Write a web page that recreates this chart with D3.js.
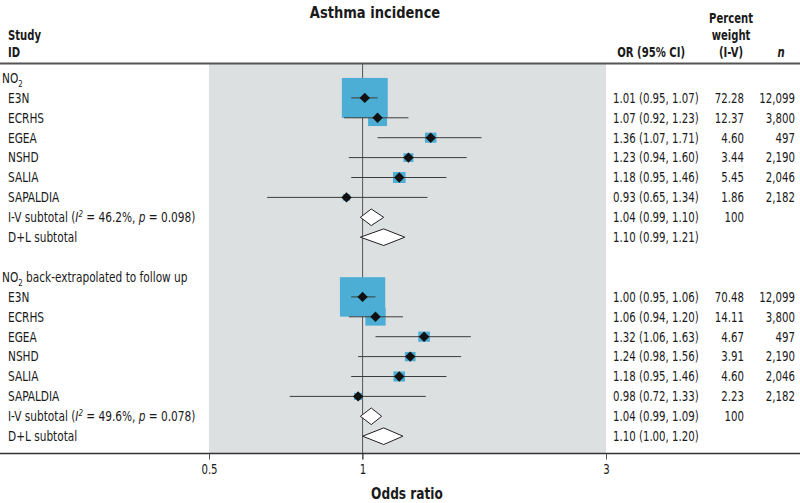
<!DOCTYPE html>
<html><head><meta charset="utf-8">
<script src="https://cdn.jsdelivr.net/npm/d3@7"></script>
<style>
body{margin:0;background:#fff;}
svg text{font-family:"DejaVu Sans Condensed","DejaVu Sans",sans-serif;font-stretch:condensed;fill:#1a1a1a;}
</style></head><body>
<svg id="c" width="800" height="503"></svg>
<script>
// ---- data ----
const title = "Asthma incidence";
const xLabel = "Odds ratio";
const groupLabels = ["NO2", "NO2 back-extrapolated to follow up"];
const studies = ["E3N", "ECRHS", "EGEA", "NSHD", "SALIA", "SAPALDIA"];
const nValues = ["12,099", "3,800", "497", "2,190", "2,046", "2,182"];
const or1 = [1.01, 1.07, 1.36, 1.23, 1.18, 0.93];
const lo1 = [0.95, 0.92, 1.07, 0.94, 0.95, 0.65];
const hi1 = [1.07, 1.23, 1.71, 1.60, 1.46, 1.34];
const w1 = [72.28, 12.37, 4.60, 3.44, 5.45, 1.86];
const iv1 = [1.04, 0.99, 1.10];
const dl1 = [1.10, 0.99, 1.21];
const het1 = ["46.2%", "0.098"];
const or2 = [1.00, 1.06, 1.32, 1.24, 1.18, 0.98];
const lo2 = [0.95, 0.94, 1.06, 0.98, 0.95, 0.72];
const hi2 = [1.06, 1.20, 1.63, 1.56, 1.46, 1.33];
const w2 = [70.48, 14.11, 4.67, 3.91, 4.60, 2.23];
const iv2 = [1.04, 0.99, 1.09];
const dl2 = [1.10, 1.00, 1.20];
const het2 = ["49.6%", "0.078"];
const ivWeight = "100";
const xTicks = [0.5, 1, 3];

// ---- layout ----
const svg = d3.select("#c");
const x = d3.scaleLog().domain([0.5, 3]).range([209, 606]);
const y = d3.scaleLinear().domain([0, 18]).range([78, 436.2]);
const boxSide = d3.scaleSqrt().domain([0, 100]).range([0, 54]);
const f2 = d3.format(".2f");
const blue = "#4daed5", panel = "#dde0e1", lineCol = "#3c3c3c";
const headerY = 63.5, axisY = 453.5;
const fs = 13.5, sx = 0.87, sxb = 0.8;
const tr = (xx, yy, s) => `translate(${xx},${yy}) scale(${s},1)`;

const groups = [
  {label: groupLabels[0], row: 0, or: or1, lo: lo1, hi: hi1, w: w1, iv: iv1, dl: dl1, het: het1},
  {label: groupLabels[1], row: 10, or: or2, lo: lo2, hi: hi2, w: w2, iv: iv2, dl: dl2, het: het2}
];

// panel
svg.append("rect").attr("x", x(0.5)).attr("y", headerY).attr("width", x(3) - x(0.5))
  .attr("height", axisY - headerY).attr("fill", panel);
// reference line at 1
svg.append("line").attr("x1", x(1)).attr("x2", x(1)).attr("y1", headerY).attr("y2", axisY + 6)
  .attr("stroke", "#555").attr("stroke-width", 1);

const studyRows = [];
groups.forEach(g => studies.forEach((s, i) => studyRows.push({
  name: s, row: g.row + 1 + i, or: g.or[i], lo: g.lo[i], hi: g.hi[i], w: g.w[i], n: nValues[i]
})));

// boxes
svg.selectAll("rect.box").data(studyRows).enter().append("rect").attr("class", "box")
  .attr("x", d => x(d.or) - boxSide(d.w) / 2)
  .attr("width", d => boxSide(d.w))
  .attr("y", d => y(d.row) - boxSide(d.w) * 0.87 / 2)
  .attr("height", d => boxSide(d.w) * 0.87)
  .attr("fill", blue);
// whiskers
svg.selectAll("line.ci").data(studyRows).enter().append("line").attr("class", "ci")
  .attr("x1", d => x(d.lo)).attr("x2", d => x(d.hi))
  .attr("y1", d => y(d.row)).attr("y2", d => y(d.row))
  .attr("stroke", lineCol).attr("stroke-width", 1);
// point diamonds
svg.selectAll("path.pt").data(studyRows).enter().append("path").attr("class", "pt")
  .attr("d", d => { const cx = x(d.or), cy = y(d.row), r = 5.2;
    return `M${cx - r},${cy}L${cx},${cy - r}L${cx + r},${cy}L${cx},${cy + r}Z`; })
  .attr("fill", "#111");

// subtotal diamonds
const subs = [];
groups.forEach(g => {
  subs.push({row: g.row + 7, v: g.iv, wt: ivWeight});
  subs.push({row: g.row + 8, v: g.dl, wt: ""});
});
svg.selectAll("path.sub").data(subs).enter().append("path").attr("class", "sub")
  .attr("d", d => { const cy = y(d.row), h = 8.3;
    return `M${x(d.v[1])},${cy}L${x(d.v[0])},${cy - h}L${x(d.v[2])},${cy}L${x(d.v[0])},${cy + h}Z`; })
  .attr("fill", "#fff").attr("stroke", "#222").attr("stroke-width", 1);

// left labels
groups.forEach(g => {
  const t = svg.append("text").attr("transform", tr(2, y(g.row), sx)).attr("dy", "0.36em").attr("font-size", fs);
  const parts = g.label.split("NO2");
  t.append("tspan").text("NO");
  t.append("tspan").text("2").attr("font-size", 9).attr("dy", 4);
  t.append("tspan").text(parts[1]).attr("dy", -4);
  const iv = svg.append("text").attr("transform", tr(8, y(g.row + 7), sx)).attr("dy", "0.36em").attr("font-size", fs);
  iv.append("tspan").text("I-V subtotal (");
  iv.append("tspan").text("I").attr("font-style", "italic");
  iv.append("tspan").text("2").attr("font-size", 9).attr("dy", -5).attr("font-style", "italic");
  iv.append("tspan").text(" = " + g.het[0] + ", ").attr("dy", 5);
  iv.append("tspan").text("p").attr("font-style", "italic");
  iv.append("tspan").text(" = " + g.het[1] + ")");
  svg.append("text").attr("transform", tr(8, y(g.row + 8), sx)).attr("dy", "0.36em").attr("font-size", fs).text("D+L subtotal");
});
svg.selectAll("text.study").data(studyRows).enter().append("text").attr("class", "study")
  .attr("transform", d => tr(8, y(d.row), sx)).attr("dy", "0.36em").attr("font-size", fs).text(d => d.name);

// right columns
svg.selectAll("text.orv").data(studyRows).enter().append("text").attr("class", "orv")
  .attr("transform", d => tr(613, y(d.row), 0.84)).attr("dy", "0.36em").attr("font-size", fs)
  .text(d => `${f2(d.or)} (${f2(d.lo)}, ${f2(d.hi)})`);
svg.selectAll("text.wt").data(studyRows).enter().append("text").attr("class", "wt")
  .attr("transform", d => tr(744, y(d.row), 0.84)).attr("dy", "0.36em").attr("font-size", fs).attr("text-anchor", "end")
  .text(d => f2(d.w));
svg.selectAll("text.nv").data(studyRows).enter().append("text").attr("class", "nv")
  .attr("transform", d => tr(795, y(d.row), 0.84)).attr("dy", "0.36em").attr("font-size", fs).attr("text-anchor", "end")
  .text(d => d.n);
svg.selectAll("text.subor").data(subs).enter().append("text").attr("class", "subor")
  .attr("transform", d => tr(613, y(d.row), 0.84)).attr("dy", "0.36em").attr("font-size", fs)
  .text(d => `${f2(d.v[0])} (${f2(d.v[1])}, ${f2(d.v[2])})`);
svg.selectAll("text.subwt").data(subs).enter().append("text").attr("class", "subwt")
  .attr("transform", d => tr(744, y(d.row), 0.84)).attr("dy", "0.36em").attr("font-size", fs).attr("text-anchor", "end")
  .text(d => d.wt);

// headers
const hb = (txt, xx, yy, anchor, size, italic, s) => svg.append("text")
  .attr("transform", tr(xx, yy, s || sxb))
  .attr("dy", "0.36em").attr("font-size", size || 14).attr("font-weight", "bold")
  .attr("text-anchor", anchor || "start").attr("font-style", italic ? "italic" : "normal").text(txt);
hb(title, 375, 12, "middle", 16.5, false, 0.88);
hb("Study", 8, 35);
hb("ID", 8, 52);
hb("OR (95% CI)", 685, 52, "end");
hb("Percent", 731, 18, "middle");
hb("weight", 731, 35, "middle");
hb("(I-V)", 731, 52, "middle");
hb("n", 781, 52, "middle", 14, true);

// lines
svg.append("line").attr("x1", 0).attr("x2", 800).attr("y1", headerY).attr("y2", headerY)
  .attr("stroke", "#555").attr("stroke-width", 2);
const axis = d3.axisBottom(x).tickValues(xTicks).tickFormat(d3.format("")).tickSize(6).tickPadding(5);
const ag = svg.append("g").attr("transform", `translate(0,${axisY})`).call(axis);
ag.select(".domain").remove();
ag.selectAll(".tick line").attr("stroke", "#555");
ag.selectAll(".tick text").attr("font-size", 13.5).attr("fill", "#1a1a1a")
  .attr("transform", `scale(0.84,1)`)
  .style("font-family", '"DejaVu Sans Condensed","DejaVu Sans",sans-serif');
svg.append("line").attr("x1", 0).attr("x2", 800).attr("y1", axisY).attr("y2", axisY)
  .attr("stroke", "#333").attr("stroke-width", 1.5);
hb(xLabel, 407, 493, "middle", 16.5, false, 0.82);
</script></body></html>
